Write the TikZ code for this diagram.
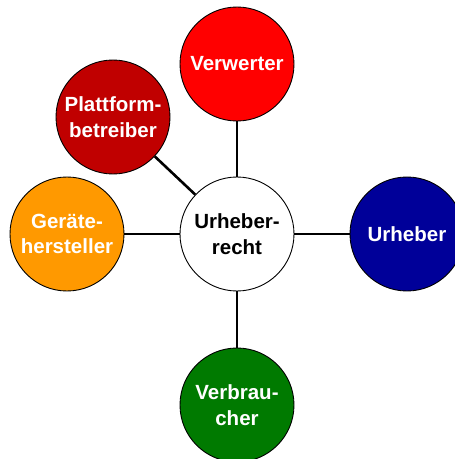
\documentclass[tikz,border=0pt]{standalone}
\usepackage{fontspec}
\setmainfont{Liberation Sans}
\definecolor{cVerw}{HTML}{FF0000}
\definecolor{cUrh}{HTML}{000099}
\definecolor{cVerb}{HTML}{007A00}
\definecolor{cGer}{HTML}{FF9900}
\definecolor{cPlat}{HTML}{C00000}
\tikzset{
  bubble/.style={circle, draw=black, line width=0.9pt, minimum size=114pt, inner sep=0pt,
    align=center, font=\fontsize{20.5}{25.5}\selectfont\bfseries, text=white},
  link/.style={draw=black, line width=2.6pt}
}
\begin{document}
\begin{tikzpicture}[x=1pt,y=1pt]
\useasboundingbox (0,0) rectangle (455,459);
\node[bubble, fill=white, text=black] (c) at (237,225) {Urheber-\\recht};
\node[bubble, fill=cVerw] (verw) at (237,395) {Verwerter};
\node[bubble, fill=cUrh] (urh) at (407,225) {Urheber};
\node[bubble, fill=cVerb] (verb) at (237,54) {Verbrau-\\cher};
\node[bubble, fill=cGer] (ger) at (67,225) {Geräte-\\hersteller};
\node[bubble, fill=cPlat] (plat) at (113,342) {Plattform-\\betreiber};
\draw[link] (c) -- (verw);
\draw[link] (c) -- (urh);
\draw[link] (c) -- (verb);
\draw[link] (c) -- (ger);
\draw[link] (c) -- (plat);
\end{tikzpicture}
\end{document}
